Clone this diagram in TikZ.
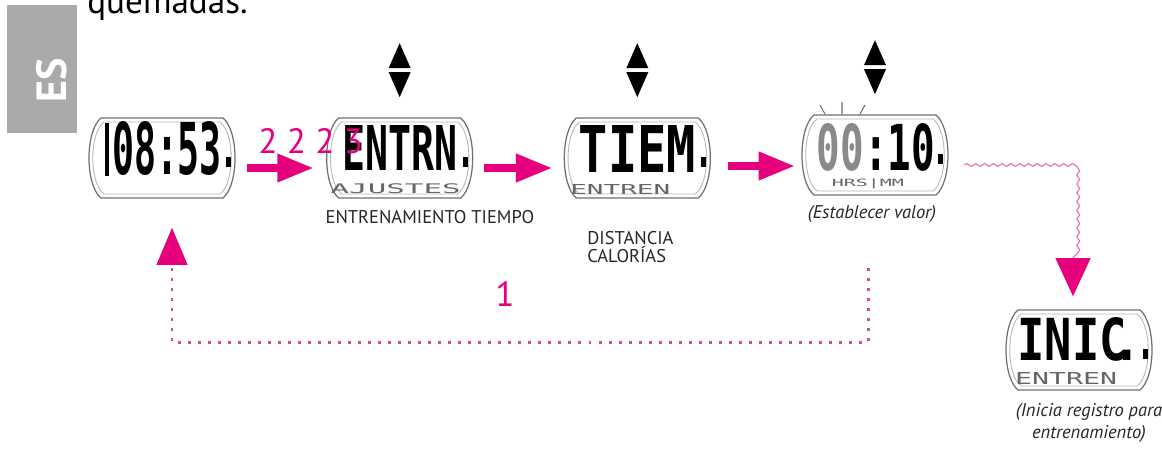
\documentclass[tikz,border=0pt]{standalone}
\usepackage{graphicx}
\usepackage{fontspec}
\setmainfont{PT Sans}
\newfontfamily\lcdfont{DejaVu Sans Mono}
\usetikzlibrary{positioning, calc, arrows.meta, decorations.pathmorphing}

\definecolor{mag}{HTML}{E6007E}
\definecolor{dotpink}{HTML}{C8509E}
\definecolor{wavepink}{HTML}{E879B8}
\definecolor{lcdgray}{HTML}{8A8A8A}
\definecolor{lcdedge}{HTML}{707070}
\definecolor{tabgray}{HTML}{AAAAAA}

\newcommand{\lcdbig}[3]{\resizebox{#1}{#2}{\lcdfont\bfseries #3}}
\newcommand{\lcdsmall}[3]{\resizebox*{#1}{#2}{\lcdfont #3}}

\begin{document}
\begin{tikzpicture}[
  x=0.02cm, y=-0.02cm,
  font=\fontsize{10.5}{12.5}\selectfont,
  node distance=1.78cm,
  lcd/.style={minimum width=2.96cm, minimum height=1.66cm, inner sep=0pt, path picture={
      \begin{scope}[shift={(path picture bounding box.center)}]
        \draw[lcdedge, line width=0.7pt] (-61,-40) -- (61,-40) .. controls (77,-27) and (77,27) .. (61,40) -- (-61,40) .. controls (-77,27) and (-77,-27) .. cycle;
        \draw[lcdedge!50, line width=0.5pt] (-58,-36) -- (58,-36) .. controls (73,-25) and (73,25) .. (58,36) -- (-58,36) .. controls (-73,25) and (-73,-25) .. cycle;
        \fill (63.5,-1) rectangle (68.5,9);
      \end{scope}}},
  lcdtxt/.style={inner sep=0pt},
  lcdsub/.style={inner sep=0pt, text=black!60},
  lbl/.style={inner sep=0pt, text=black!85, font=\fontsize{10.5}{10.5}\selectfont},
  note/.style={lbl, font=\itshape\fontsize{10.5}{12.5}\selectfont},
  num/.style={inner sep=0pt, text=mag, font=\fontsize{20}{20}\selectfont},
  flow/.style={draw=mag, line width=4pt, -{Triangle[length=0.72cm, width=0.54cm]}},
  loopline/.style={draw=dotpink, line width=1.7pt, dash pattern=on 1.7pt off 4pt},
  wavy/.style={draw=wavepink, line width=0.7pt, decorate, decoration={snake, amplitude=0.8pt, segment length=5pt}},
  headup/.style={draw=mag, fill=mag, line width=0.5pt, -{Triangle[length=0.74cm, width=0.62cm]}},
  headdown/.style={draw=mag, fill=mag, line width=0.5pt, -{Triangle[length=0.76cm, width=0.7cm]}}
]
\useasboundingbox (0,0) rectangle (1162,451);
\fill[white] (0,0) rectangle (1162,451);

% language tab and the end of the previous sentence
\node[fill=tabgray, minimum width=1.4cm, minimum height=2.56cm, inner sep=0pt] (tab) at (42,69) {};
\node[text=white, font=\bfseries\fontsize{24}{24}\selectfont, rotate=90, inner sep=0pt] (tabtxt) at (52,80) {ES};
\node[anchor=base west, inner sep=0pt, font=\fontsize{20}{20}\selectfont] (prev) at (87,13) {quemadas.};

% Row 1: watch displays
\node[lcd] (d1) at (162,158) {};
\node[lcd, right=of d1] (d2) {};
\node[lcd, right=of d2] (d3) {};
\node[lcd, right=of d3, yshift=0.06cm] (d4) {};
\node[lcd] (d5) at (1079,350) {};

% display contents
\node[lcdtxt] (d1t) at ($(d1)+(5,-9)$) {\lcdbig{2.2cm}{1.06cm}{08:53}};
\fill ($(d1)+(-57,-35)$) rectangle ($(d1)+(-53,18)$);
\node[lcdtxt] (d2t) at ($(d2)+(0,-10)$) {\lcdbig{2.3cm}{0.9cm}{ENTRN}};
\node[lcdsub] (d2s) at ($(d2)+(-4,31)$) {\lcdsmall{2.6cm}{0.2cm}{AJUSTES}};
\node[lcdtxt] (d3t) at ($(d3)+(0,-9)$) {\lcdbig{2.34cm}{0.94cm}{TIEM}};
\node[lcdsub] (d3s) at ($(d3)+(-17,31)$) {\lcdsmall{2cm}{0.2cm}{ENTREN}};
\node[lcdtxt] (d4t) at ($(d4)+(1,-8)$) {\lcdbig{2.36cm}{0.94cm}{\textcolor{lcdgray}{00}:10}};
\node[lcdsub] (d4s) at ($(d4)+(-7,29)$) {\lcdsmall{1.44cm}{0.2cm}{HRS|MM}};
\node[lcdtxt] (d5t) at ($(d5)+(0,-11)$) {\lcdbig{2.46cm}{0.86cm}{INIC\kern-0.3em.}};
\node[lcdsub] (d5s) at ($(d5)+(-13,28)$) {\lcdsmall{2.04cm}{0.24cm}{ENTREN}};
\draw[lcdedge, line width=0.6pt] ($(d4)+(-55,-50)$) -- ($(d4)+(-50,-41)$)
  ($(d4)+(-33,-53)$) -- ($(d4)+(-33,-41)$)
  ($(d4)+(-10,-50)$) -- ($(d4)+(-15,-41)$);

% up/down buttons above the settable displays
\foreach \d in {d2,d3,d4}{
  \fill ($(\d.north)+(0,-73)$) -- ($(\d.north)+(11,-48)$) -- ($(\d.north)+(-11,-48)$) -- cycle;
  \fill ($(\d.north)+(0,-19)$) -- ($(\d.north)+(11,-44)$) -- ($(\d.north)+(-11,-44)$) -- cycle;
}

% labels
\node[num, anchor=base west] (seq) at (258,153) {2 2 2 3};
\node[num, anchor=base] (back) at (505,306) {1};
\node[lbl, anchor=base west] (lblA) at ($(d2.west)+(0,65)$) {ENTRENAMIENTO TIEMPO};
\node[lbl, anchor=north west, align=left] (lblB) at (587,231) {DISTANCIA\\CALORÍAS};
\node[note, anchor=base] (lblC) at ($(d4.south)+(-3,22)$) {(Establecer valor)};
\node[note, anchor=north, align=center] (lblD) at ($(d5.south)+(10,11)$) {(Inicia registro para\\entrenamiento)};

% main flow
\draw[flow, shorten <=0.22cm, shorten >=0.24cm] ([yshift=-0.2cm]d1.east) -- ([yshift=-0.2cm]d2.west);
\draw[flow, shorten <=0.2cm, shorten >=0.22cm] ([yshift=-0.2cm]d2.east) -- ([yshift=-0.2cm]d3.west);
\draw[flow, shorten <=0.32cm, shorten >=0.12cm] ([yshift=-0.16cm]d3.east) -- ([yshift=-0.16cm]d3.east -| d4.west);

% way back (1)
\coordinate (lpTop) at (868,268);
\coordinate (lpR) at (868,342);
\coordinate (lpL) at (172,342);
\coordinate (lpHead) at (172,265);
\draw[loopline] (lpTop) -- (lpR) -- (lpL) -- (lpHead);
\draw[headup, shorten >=0.56cm] (lpHead) -- ([xshift=0.2cm]d1.south);

% start of the training
\coordinate (wvC) at (1073,165);
\coordinate (wvEnd) at (1073,262);
\draw[wavy] ([xshift=0.3cm,yshift=-0.2cm]d4.east) -- (wvC) -- (wvEnd);
\draw[headdown, shorten >=0.24cm] (wvEnd) -- (wvEnd |- d5.north);
\end{tikzpicture}
\end{document}
